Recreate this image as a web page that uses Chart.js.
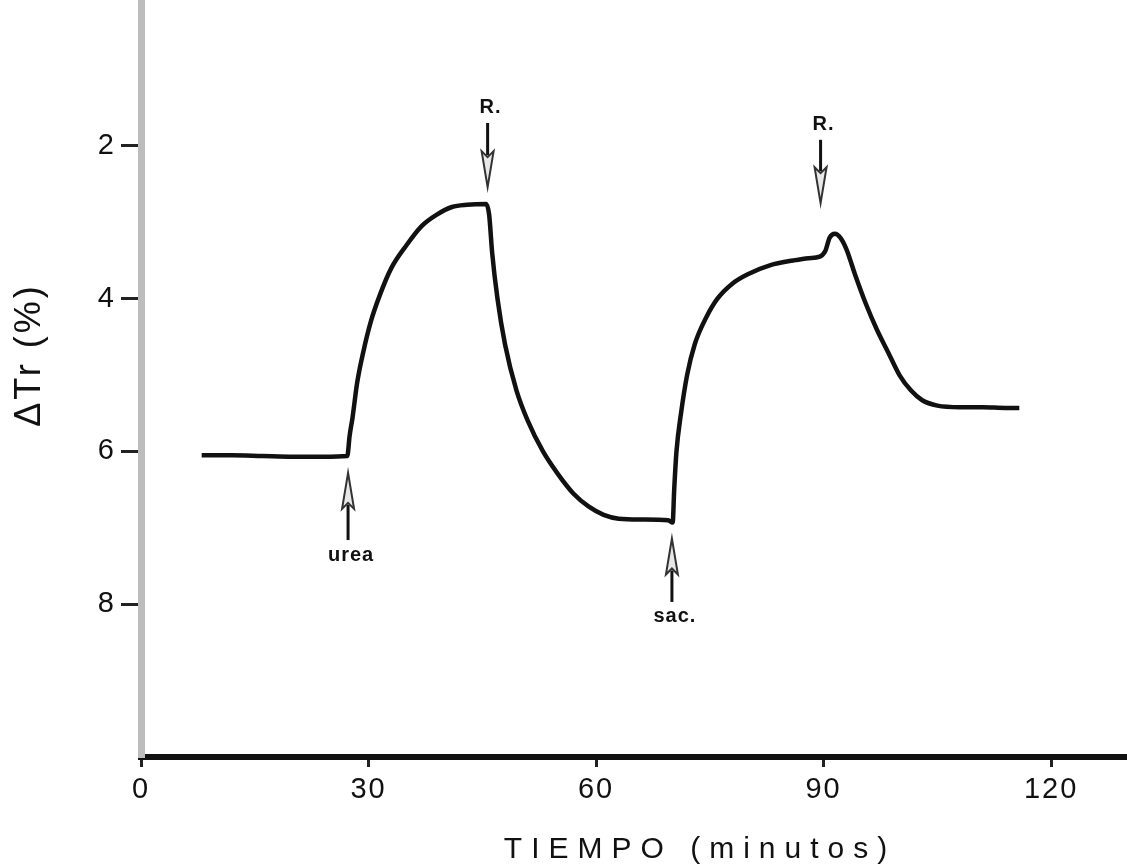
<!DOCTYPE html>
<html>
<head>
<meta charset="utf-8">
<script src="https://cdn.jsdelivr.net/npm/chart.js@4/dist/chart.umd.min.js"></script>
<style>
  html, body { margin: 0; padding: 0; background: #fff; }
  #wrap { width: 1127px; height: 868px; }
</style>
</head>
<body>
<div id="wrap"><canvas id="chart" width="1127" height="868"></canvas></div>
<script>
// tiempo (min) y ΔTr (%)
const minutes = [8, 12, 16, 20, 24, 27.2,
    27.5, 27.9, 28.5, 29.3, 30.3, 31.5, 33, 35, 37, 39, 41, 43, 45.5,
    45.9, 46.3, 47, 48, 49.5, 51, 53, 55, 57, 59, 61, 63, 66, 69.5, 70.1,
    70.3, 70.6, 71.2, 72, 73, 74.5, 76, 78, 80, 83, 86, 88, 89.5,
    90.2, 90.8, 91.5, 92.2, 93, 94.2, 95.5, 97, 98.5, 100, 101.5, 103, 105, 108, 111, 114, 115.8];
const deltaTr = [6.05, 6.05, 6.06, 6.07, 6.07, 6.06,
    5.8, 5.55, 5.1, 4.7, 4.3, 3.95, 3.6, 3.3, 3.05, 2.9, 2.8, 2.77, 2.76,
    2.9, 3.4, 4.0, 4.6, 5.2, 5.6, 6.0, 6.3, 6.55, 6.72, 6.83, 6.88, 6.89, 6.9, 6.93,
    6.5, 6.0, 5.5, 5.0, 4.6, 4.25, 4.0, 3.8, 3.68, 3.56, 3.5, 3.47, 3.45,
    3.38, 3.2, 3.15, 3.2, 3.35, 3.7, 4.05, 4.4, 4.7, 5.0, 5.2, 5.33, 5.4, 5.42, 5.42, 5.43, 5.43];

const xTicks = [0, 30, 60, 90, 120];
const yTicks = [2, 4, 6, 8];

// flechas: etiqueta, tiempo, punta y cola (en unidades de ΔTr)
const markerLabels = ['urea', 'R.', 'sac.', 'R.'];
const markerTimes = [27.3, 45.7, 70.0, 89.6];
const markerTips = [6.28, 2.54, 7.14, 2.75];
const markerTails = [7.16, 1.70, 7.97, 1.92];

const FONT = '"Liberation Sans", Arial, sans-serif';

const decorPlugin = {
    id: 'decor',
    beforeDraw(chart) {
        chart.ctx.letterSpacing = '2px';
    },
    afterDatasetsDraw(chart) {
        const ctx = chart.ctx;
        const x = chart.scales.x;
        const y = chart.scales.y;
        ctx.save();
        ctx.letterSpacing = '1px';
        for (let i = 0; i < markerLabels.length; i++) {
            const px = x.getPixelForValue(markerTimes[i]);
            const tip = y.getPixelForValue(markerTips[i]);
            const tail = y.getPixelForValue(markerTails[i]);
            const dir = tail > tip ? 1 : -1;   // 1 = flecha hacia arriba
            const headLen = 36;
            const headBase = tip + dir * headLen;
            // asta
            ctx.strokeStyle = '#111';
            ctx.lineWidth = 3;
            ctx.beginPath();
            ctx.moveTo(px, headBase - dir * 4);
            ctx.lineTo(px, tail);
            ctx.stroke();
            // punta hueca
            ctx.lineWidth = 2;
            ctx.strokeStyle = '#333';
            ctx.fillStyle = '#e8e8e8';
            ctx.beginPath();
            ctx.moveTo(px, tip);
            ctx.lineTo(px - 6, headBase);
            ctx.lineTo(px, headBase - dir * 6);
            ctx.lineTo(px + 6, headBase);
            ctx.closePath();
            ctx.fill();
            ctx.stroke();
            // etiqueta
            ctx.fillStyle = '#111';
            ctx.font = 'bold 20px ' + FONT;
            ctx.textAlign = 'center';
            ctx.textBaseline = 'middle';
            ctx.fillText(markerLabels[i], px + 3, tail + dir * 15);
        }
        ctx.restore();
    },
    afterDraw(chart) {
        // títulos de los ejes (desplazados como en el original)
        const ctx = chart.ctx;
        ctx.save();
        ctx.fillStyle = '#111';
        ctx.textAlign = 'center';
        ctx.textBaseline = 'middle';
        ctx.font = '30px ' + FONT;
        ctx.letterSpacing = '9px';
        ctx.fillText('TIEMPO (minutos)', 700, 850);
        ctx.translate(30, 355);
        ctx.rotate(-Math.PI / 2);
        ctx.font = '36px ' + FONT;
        ctx.letterSpacing = '3px';
        ctx.fillText('ΔTr (%)', 0, 0);
        ctx.restore();
    }
};

new Chart(document.getElementById('chart'), {
    type: 'line',
    plugins: [decorPlugin],
    data: {
        labels: minutes,
        datasets: [{
            data: minutes.map((m, i) => ({ x: m, y: deltaTr[i] })),
            borderColor: '#111',
            borderWidth: 4.5,
            pointRadius: 0,
            cubicInterpolationMode: 'monotone',
            fill: false
        }]
    },
    options: {
        responsive: false,
        animation: false,
        layout: { padding: 0 },
        plugins: {
            legend: { display: false },
            tooltip: { enabled: false }
        },
        scales: {
            x: {
                type: 'linear',
                min: 0,
                max: 130,
                afterBuildTicks: (s) => { s.ticks = xTicks.map(v => ({ value: v })); },
                afterFit: (s) => { s.height = 111; s.paddingLeft = 0; s.paddingRight = 0; },
                grid: { drawOnChartArea: false, tickLength: 10, tickWidth: 3, tickColor: '#222' },
                border: { color: '#111', width: 6 },
                ticks: { color: '#111', padding: 6, font: { family: FONT, size: 29 } }
            },
            y: {
                type: 'linear',
                reverse: true,
                min: 0.09,
                max: 10,
                afterBuildTicks: (s) => { s.ticks = yTicks.map(v => ({ value: v })); },
                afterFit: (s) => { s.width = 141; s.paddingTop = 0; s.paddingBottom = 0; },
                grid: { drawOnChartArea: false, tickLength: 20, tickWidth: 3, tickColor: '#222' },
                border: { color: '#bdbdbd', width: 7 },
                ticks: { color: '#111', padding: 5, font: { family: FONT, size: 29 } }
            }
        }
    }
});
</script>
</body>
</html>
